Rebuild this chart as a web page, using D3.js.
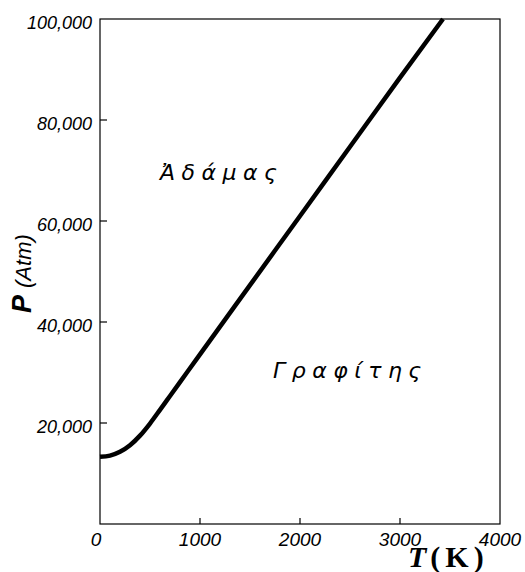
<!DOCTYPE html>
<html>
<head>
<meta charset="utf-8">
<script src="https://cdn.jsdelivr.net/npm/d3@7"></script>
<style>
  body { margin: 0; background: #fff; }
  svg { display: block; }
  .tick-label { font-family: "Liberation Sans", Arial, sans-serif; font-style: italic; fill: #000; }
  .greek { font-family: "DejaVu Sans", sans-serif; font-style: italic; font-size: 22px; letter-spacing: 6.5px; fill: #000; }
</style>
</head>
<body>
<svg id="chart" width="525" height="572"></svg>
<script>
"use strict";

// phase boundary
var temps = [0, 100, 200, 300, 400, 500, 600, 700, 800, 1000, 1500, 2000, 2500, 3000, 3430];
var pressures = [13300, 13550, 14300, 15600, 17500, 19900, 22600, 25350, 28100, 33600, 47300, 61000, 74700, 88400, 100000];

var xTicks = [0, 1000, 2000, 3000, 4000];
var yTicks = [20000, 40000, 60000, 80000, 100000];
var yTickLabels = ["20,000", "40,000", "60,000", "80,000", "100,000"];

var regionNames = ["\u1F08\u03B4\u03AC\u03BC\u03B1\u03C2", "\u0393\u03C1\u03B1\u03C6\u03AF\u03C4\u03B7\u03C2"];
var regionT = [600, 1730];
var regionP = [68200, 29000];

(function () {
    var svg = d3.select("#chart"),
        left = 100,
        right = 500,
        top = 19,
        bottom = 524,
        x = d3.scaleLinear().domain([0, 4000]).range([left, right]),
        y = d3.scaleLinear().domain([0, 100000]).range([bottom, top]),
        g;

    // frame
    svg.append("rect")
        .attr("x", left)
        .attr("y", top)
        .attr("width", right - left)
        .attr("height", bottom - top)
        .attr("fill", "none")
        .attr("stroke", "#000")
        .attr("stroke-width", 1.2);

    // x ticks (inward)
    g = svg.append("g");
    g.selectAll("line")
        .data(xTicks.slice(1, -1))
        .enter().append("line")
        .attr("x1", function (d) { return x(d); })
        .attr("x2", function (d) { return x(d); })
        .attr("y1", bottom)
        .attr("y2", bottom - 6)
        .attr("stroke", "#000")
        .attr("stroke-width", 1.2);
    g.selectAll("text")
        .data(xTicks)
        .enter().append("text")
        .attr("class", "tick-label")
        .attr("font-size", 19)
        .attr("x", function (d) { return x(d) - (d === 0 ? 4 : 0); })
        .attr("y", 546)
        .attr("text-anchor", "middle")
        .text(function (d) { return d; });

    // y ticks (inward)
    g = svg.append("g");
    g.selectAll("line")
        .data(yTicks.slice(0, -1))
        .enter().append("line")
        .attr("x1", left)
        .attr("x2", left + 7)
        .attr("y1", function (d) { return y(d); })
        .attr("y2", function (d) { return y(d); })
        .attr("stroke", "#000")
        .attr("stroke-width", 1.2);
    g.selectAll("text")
        .data(yTicks)
        .enter().append("text")
        .attr("class", "tick-label")
        .attr("font-size", 18)
        .attr("x", 92)
        .attr("y", function (d) { return y(d) + 9.5; })
        .attr("text-anchor", "end")
        .text(function (d, i) { return yTickLabels[i]; });

    // curve
    var line = d3.line()
        .x(function (d) { return x(d[0]); })
        .y(function (d) { return y(d[1]); })
        .curve(d3.curveMonotoneX);

    svg.append("path")
        .datum(d3.zip(temps, pressures))
        .attr("d", line)
        .attr("fill", "none")
        .attr("stroke", "#000")
        .attr("stroke-width", 4.5);

    // region names
    svg.selectAll(".greek")
        .data(regionNames)
        .enter().append("text")
        .attr("class", "greek")
        .attr("x", function (d, i) { return x(regionT[i]); })
        .attr("y", function (d, i) { return y(regionP[i]); })
        .text(function (d) { return d; });

    // axis titles
    var yl = svg.append("text")
        .attr("transform", "translate(31,313) rotate(-90)")
        .attr("font-family", "Liberation Sans, Arial, sans-serif");
    yl.append("tspan")
        .attr("font-weight", "bold")
        .attr("font-style", "italic")
        .attr("font-size", 27)
        .text("P");
    yl.append("tspan")
        .attr("font-style", "italic")
        .attr("font-size", 22)
        .attr("dx", 7)
        .text("(Atm)");

    var xl = svg.append("text")
        .attr("x", 408)
        .attr("y", 567)
        .attr("font-family", "Liberation Serif, Times New Roman, serif")
        .attr("font-weight", "bold")
        .attr("font-size", 30)
        .attr("letter-spacing", 5);
    xl.append("tspan")
        .attr("font-style", "italic")
        .text("T");
    xl.append("tspan")
        .attr("dx", -1)
        .text("(K)");
}());
</script>
</body>
</html>
